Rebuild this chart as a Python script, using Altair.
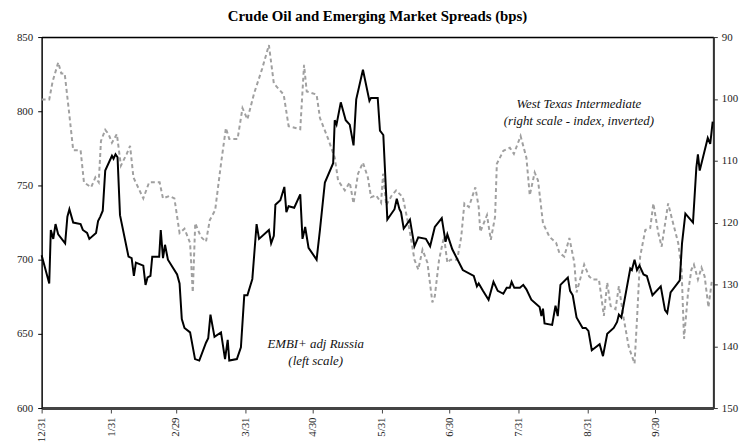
import altair as alt
import pandas as pd

# Days after 1999-12-31 and EMBI+ adj Russia spread (bps, left scale)
embi_days = [0, 3.4, 4.1, 5.2, 6.2, 7.4, 10.5, 11.5, 12.4, 14.1, 17.4, 18.4, 20.3, 21.3, 24.3, 25.2, 26.2, 27.3,
             28.4, 31.4, 32.1, 33, 33.9, 35, 38.8, 40.2, 41.2, 42.1, 45.4, 46.4, 47.3, 48.6, 49.4, 52.5, 53.2,
             54.2, 55.1, 56.4, 60.5, 61.6, 62.6, 63.8, 66.3, 68.5, 70.4, 73.4, 74.4, 75.4, 77.2, 80.1, 81.9,
             83.1, 83.8, 87.2, 89, 90.5, 91.9, 94.1, 96, 97.1, 101.5, 102.5, 103.7, 104.4, 106.6, 108.4, 109.3,
             110.3, 112.8, 115.5, 116.5, 117.7, 119.2, 122.8, 124.3, 126.5, 130.2, 130.9, 131.7, 133.6, 135.8,
             137.6, 139.3, 140.5, 143.5, 146.4, 147.1, 150.1, 151.1, 152.6, 154.4, 157.6, 158.6, 159.8, 160.5,
             161.7, 162.7, 164.5, 166.5, 168.2, 171.6, 173.5, 175.6, 178.7, 180.4, 181.2, 183.4, 188.1, 193,
             194.4, 195.2, 197.1, 199.6, 201.8, 203.7, 206.2, 207.7, 209.1, 209.9, 211.1, 213.6, 215.1, 216.5,
             218.7, 222.4, 223.2, 223.9, 224.6, 228, 229.5, 230.5, 231.7, 235, 236, 237.2, 238.9, 241.6, 243,
             244.2, 245.7, 249.2, 250.7, 252.6, 255.5, 257, 257.8, 258.9, 262.9, 263.6, 264.8, 265.9, 267,
             268.8, 270.3, 272.8, 276.5, 278.4, 279.4, 280.9, 285, 286, 287.5, 290.9, 292.4, 293.1, 293.9,
             297.5, 298.6, 299.7]
embi_vals = [703, 684, 720, 714, 724, 717, 711, 729, 734, 725, 724, 720, 718, 714, 718, 726, 729, 733,
             760, 770, 768, 771, 769, 730, 702, 701, 689, 698, 696, 683, 688, 689, 702, 702, 720,
             701, 710, 700, 690, 684, 660, 654, 651, 633, 632, 644, 647, 663, 648, 651, 633,
             646, 632, 633, 641, 676, 676, 687, 724, 714, 720, 711, 716, 737, 740, 749, 732,
             736, 735, 744, 714, 722, 708, 700, 720, 752, 765, 794, 791, 806, 794,
             791, 777, 808, 828, 807, 809, 809, 787, 784, 727, 734, 741, 734, 732,
             721, 723, 727, 709, 715, 714, 709, 722, 728, 712, 717, 707, 693, 689,
             682, 684, 679, 673, 685, 679, 677, 681, 681, 685, 681, 681, 683, 680,
             673, 668, 662, 667, 657, 656, 669, 662, 683, 688, 679, 676, 661, 654, 654,
             652, 639, 643, 635, 650, 654, 658, 663, 661, 694, 693, 700, 693, 696,
             690, 689, 676, 682, 666, 664, 678, 686, 711, 731, 725, 762, 771, 760,
             782, 778, 793]

# Days after 1999-12-31 and West Texas Intermediate index (right scale, inverted)
wti_days = [0, 3.4, 4.9, 7.4, 8.8, 10.3, 12.2, 14.1, 17.4, 18.9, 22.1, 24, 25.5, 26.5, 28.4, 29.9, 31.4,
            33.6, 35.4, 38, 39.5, 41, 45.4, 48, 52.7, 54.2, 57.1, 59.3, 61.6, 63.8, 66.3, 67.5, 68.6, 71.1,
            73.4, 75.1, 77.5, 80.1, 82.3, 83.8, 87.5, 89.7, 91.9, 94.9, 98.5, 101.5, 103.7, 108.1, 110.3,
            115.5, 117.2, 118.4, 122.8, 124.3, 128, 130.9, 132.4, 135.4, 137.6, 139.3, 141.3, 143.5, 145.7,
            147.1, 149.4, 151.6, 152.5, 153.9, 156.4, 158.3, 161.3, 164.3, 166.5, 168.2, 170.1, 172.3, 174.5,
            175.6, 177.5, 179.7, 181.2, 182.6, 185.6, 187.4, 188.8, 190.8, 193.7, 195.2, 195.9, 198.9, 200.6,
            202.5, 203.3, 206.2, 209.1, 210.9, 213.9, 216.5, 218, 220.2, 221.7, 223.9, 226.8, 229.8, 231.2,
            233.4, 235.7, 237.9, 238.9, 242.3, 244.5, 246, 248.9, 251.1, 252.6, 254.1, 256.3, 257.8, 260,
            262.2, 264.8, 265.9, 267.3, 269.6, 271.8, 273.2, 275.4, 276.9, 279.8, 281.3, 284.3, 285.8, 286.9,
            288.7, 290.2, 291.3, 293.1, 294.7, 296.1, 297.8, 299.3]
wti_vals = [100.1, 100.1, 97.2, 94.1, 95.9, 95.9, 102, 108.3, 108.3, 113.5, 114.3, 112.7, 113.5, 106.8, 105,
            105.7, 107.1, 105.7, 110.8, 108.9, 107.6, 112.7, 116.1, 113.5, 113.5, 116.1, 115.7, 116.1, 121.7,
            121, 123.3, 131.3, 120.1, 122.3, 123.1, 119.6, 118, 110.5, 104.7, 106.5, 106.5, 101.5, 103.3,
            99.1, 95.1, 91.3, 97.5, 99.3, 104.4, 104.9, 94.5, 98.8, 99.3, 103.1, 106.5, 109.5, 113.2, 114.8,
            113.5, 116.9, 112.1, 110.3, 112.7, 115.9, 115.6, 116.8, 112.1, 117.2, 115.6, 114.8, 115.9, 121.2,
            126, 127.6, 124.4, 126.5, 132.9, 131.9, 126, 122.3, 126.5, 126, 126, 122.3, 116.9, 117.5, 114.3,
            117.5, 121.5, 118.8, 122.8, 119.1, 110.5, 108.4, 107.9, 108.9, 106, 109.5, 115.6, 111.9, 113.2,
            120.1, 122.3, 123.3, 124.9, 125.5, 122.5, 126.5, 131.3, 126.8, 128.7, 129.2, 129.2, 135.1, 129.7,
            133.5, 134, 130.3, 135.6, 140.1, 142.8, 135.6, 125.5, 121.2, 120.9, 116.9, 121.7, 123.9, 116.9,
            119.1, 123.3, 127.6, 138.8, 131.3, 127.6, 126.8, 129.2, 127.3, 128.7, 133.7, 129.5]

tick_dates = [(1999, 12, 31), (2000, 1, 31), (2000, 2, 29), (2000, 3, 31), (2000, 4, 30),
              (2000, 5, 31), (2000, 6, 30), (2000, 7, 31), (2000, 8, 31), (2000, 9, 30)]
left_ticks = [600, 650, 700, 750, 800, 850]
right_ticks = [90, 100, 110, 120, 130, 140, 150]

base = pd.Timestamp("1999-12-31")
embi_df = pd.DataFrame({"date": base + pd.to_timedelta(embi_days, unit="D"),
                        "v": embi_vals, "i": range(len(embi_vals))})
wti_df = pd.DataFrame({"date": base + pd.to_timedelta(wti_days, unit="D"),
                       "w": wti_vals, "i": range(len(wti_vals))})

SERIF = "Liberation Serif"

x_scale = alt.Scale(domain=[alt.DateTime(year=1999, month=12, date=31),
                            alt.DateTime(year=2000, month=10, date=26)])
x_axis = alt.Axis(orient="bottom",
                  values=[alt.DateTime(year=y, month=m, date=d) for y, m, d in tick_dates],
                  format="%-m/%-d", labelAngle=270, labelAlign="right", labelBaseline="middle",
                  labelPadding=4, tickSize=5, tickColor="#444", domainColor="#444", domainWidth=3,
                  grid=False, title=None, labelFont=SERIF, labelFontSize=11, labelColor="#222",
                  labelOverlap=False)
# top frame line: a label-less, tick-less axis along the top of the plot
x_top_axis = alt.Axis(orient="top",
                      values=[alt.DateTime(year=y, month=m, date=d) for y, m, d in tick_dates],
                      labels=False, ticks=False, grid=False, title=None,
                      domain=True, domainColor="black", domainWidth=1.5)

wti = alt.Chart(wti_df).mark_line(color="#a0a0a0", strokeWidth=2, strokeDash=[4, 3]).encode(
    x=alt.X("date:T", scale=x_scale, axis=x_axis),
    y=alt.Y("w:Q", scale=alt.Scale(domain=[90, 150], reverse=True, nice=False),
            axis=alt.Axis(orient="right", values=right_ticks, grid=False, title=None,
                          domainColor="#333", domainWidth=2, tickColor="#333", tickSize=4,
                          labelPadding=4, labelFont=SERIF, labelFontSize=11, labelColor="#222")),
    order="i:Q",
)

embi = alt.Chart(embi_df).mark_line(color="black", strokeWidth=2).encode(
    x=alt.X("date:T", scale=x_scale, axis=x_top_axis),
    y=alt.Y("v:Q", scale=alt.Scale(domain=[600, 850], nice=False),
            axis=alt.Axis(orient="left", values=left_ticks, grid=False, title=None,
                          domainColor="black", domainWidth=1, tickColor="black", tickSize=4,
                          labelPadding=5, labelFont=SERIF, labelFontSize=11, labelColor="#222")),
    order="i:Q",
)

one = pd.DataFrame({"k": [0]})
wti_label = alt.Chart(one).mark_text(
    text=["West Texas Intermediate", "(right scale - index, inverted)"],
    font=SERIF, fontSize=13, fontStyle="italic", color="#111", lineHeight=17,
    align="center", baseline="middle",
).encode(x=alt.value(543), y=alt.value(68))

embi_label = alt.Chart(one).mark_text(
    text=["EMBI+ adj Russia", "(left scale)"],
    font=SERIF, fontSize=13, fontStyle="italic", color="#111", lineHeight=17,
    align="center", baseline="middle",
).encode(x=alt.value(277), y=alt.value(310))

chart = alt.layer(wti, embi, wti_label, embi_label).resolve_scale(
    y="independent", x="shared").resolve_axis(x="independent").properties(
    width=679, height=375,
    autosize=alt.AutoSizeParams(type="none"),
    padding={"left": 34, "top": 27, "right": 34, "bottom": 37},
    title=alt.TitleParams("Crude Oil and Emerging Market Spreads (bps)", font=SERIF, fontSize=15,
                          fontWeight="bold", anchor="middle", offset=7, color="black"),
).configure_view(stroke="black", strokeWidth=1)

chart.save("out.html", embed_options={"renderer": "svg", "actions": False})
